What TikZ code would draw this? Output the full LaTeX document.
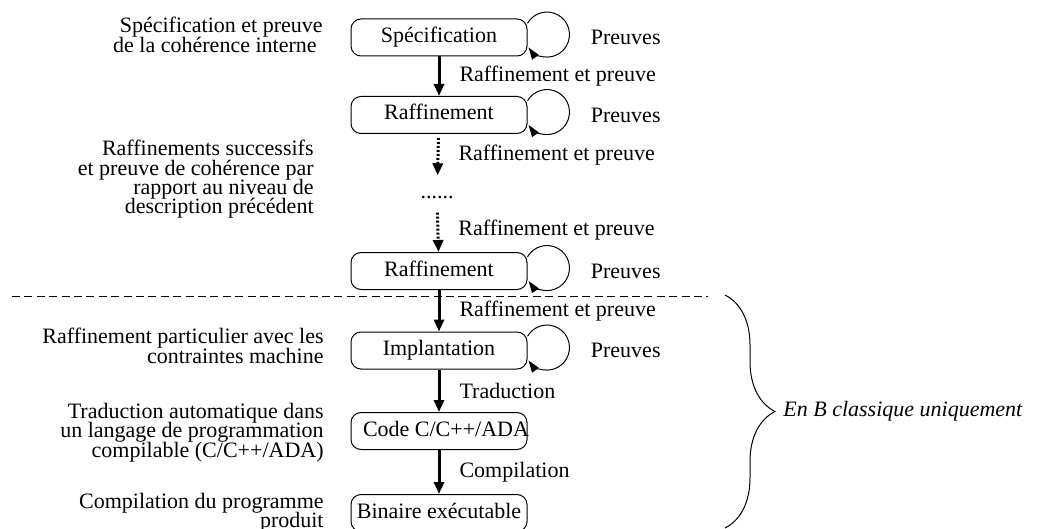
\documentclass[tikz,border=0pt]{standalone}
\usepackage{fontspec}
\setmainfont{Liberation Serif}
\usetikzlibrary{arrows.meta,positioning,decorations.pathreplacing}
\setlength{\lineskiplimit}{-20pt}

\begin{document}
\begin{tikzpicture}[x=0.5pt, y=-0.5pt,
        every node/.style={font=\fontsize{11}{9.6}\selectfont},
        etape/.style={draw, line width=0.5pt, rounded corners=5pt, minimum width=88pt, minimum height=18.5pt, inner sep=2pt, text height=7.5pt, text depth=2.5pt},
        fleche/.style={line width=1.5pt, -{Triangle[width=5pt,length=6pt]}},
        pointille/.style={fleche, dash pattern=on 1pt off 1pt},
        boucle/.style={line width=0.5pt, -{Triangle[width=4pt,length=6pt]}},
        commentaire/.style={anchor=north east, align=right, inner sep=0pt},
        etiq/.style={right=9.5pt, inner sep=0pt}]
                \useasboundingbox (0,0) rectangle (1043,529);
                % Etapes du developpement
                \node[etape] (spec) at (439,37.5) {Spécification};
                \node[etape] (raffa) at (439,115) {Raffinement};
                \node[inner sep=0pt] (etc) at (437,198) {......};
                \node[etape] (raffb) at (439,271) {Raffinement};
                \node[etape] (impl) at (439,350.5) {Implantation};
                \node[etape, inner xsep=6pt] (code) at (439,431) {\makebox[76pt][l]{Code C/C++/ADA}};
                \node[etape] (bin) at (439,513) {Binaire exécutable};
                % Passages d'une etape a l'autre
                \draw[fleche] (spec) -- node[etiq] (ea) {Raffinement et preuve} (raffa);
                \draw[pointille, shorten <=2pt, shorten >=10.5pt] (raffa) -- node[etiq, pos=0.34] (eb) {Raffinement et preuve} (etc);
                \draw[pointille, shorten <=6.5pt] (etc) -- node[etiq, pos=0.58] (ec) {Raffinement et preuve} (raffb);
                \draw[fleche] (raffb) -- node[etiq] (ed) {Raffinement et preuve} (impl);
                \draw[fleche] (impl) -- node[etiq] (ee) {Traduction} (code);
                \draw[fleche] (code) -- node[etiq] (ef) {Compilation} (bin);
                % Preuves sur chaque etape
                \foreach \b in {spec, raffa, raffb, impl} {
                    \draw[boucle] ([shift={(0pt,7.1pt)}]\b.east) arc[start angle=150, end angle=-145, radius=11.25pt];
                    \node[inner sep=0pt, right=31.5pt of \b] (p\b) {Preuves};
                }
                % Commentaires a gauche
                \node[commentaire] (cspec) at (323,17) {Spécification et preuve\\de la cohérence interne\hspace*{3pt}};
                \node[commentaire] (craff) at (314,140) {Raffinements successifs\\et preuve de cohérence par\hspace*{3pt}\\rapport au niveau de\\description précédent};
                \node[commentaire] (cimpl) at (324,328) {Raffinement particulier avec les\\contraintes machine};
                \node[commentaire] (ccode) at (324,403) {Traduction automatique dans\\un langage de programmation\\compilable (C/C++/ADA)};
                \node[commentaire] (cbin) at (324,493) {Compilation du programme\\produit};
                % Separation et accolade
                \coordinate (sepg) at (12,296);
                \coordinate (sepd) at (708,296);
                \draw[line width=0.5pt, dash pattern=on 4pt off 2.2pt] (sepg) -- (sepd);
                \coordinate (acch) at (725,295);
                \coordinate (accb) at (725,528);
                \coordinate (pointe) at (775,411.5);
                \draw[line width=0.5pt, decorate, decoration={brace, amplitude=25pt}] (acch) -- (accb);
                \node[inner sep=0pt, right=4pt of pointe, font=\fontsize{11}{9.6}\selectfont\itshape] (classique) {En B classique uniquement};
            \end{tikzpicture}
\end{document}
